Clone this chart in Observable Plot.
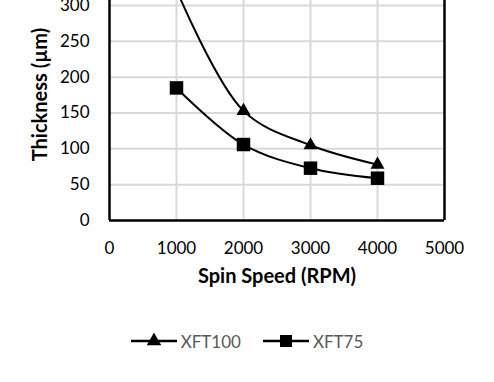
<!DOCTYPE html>
<html>
<head>
<meta charset="utf-8">
<script src="https://cdn.jsdelivr.net/npm/d3@7"></script>
<script src="https://cdn.jsdelivr.net/npm/@observablehq/plot@0.6"></script>
<style>
  html, body { margin: 0; padding: 0; background: #fff; }
  #chart { width: 494px; }
  .legend { height: 82px; display: flex; justify-content: center; align-items: center; gap: 22px; font-family: Lato, "Open Sans", sans-serif; font-size: 17px; color: #595959; padding-left: 0px; padding-bottom: 2px; }
  .legend .item { display: flex; align-items: center; gap: 4px; }
</style>
</head>
<body>
<div id="chart"></div>
<script>
const speeds = [1000, 2000, 3000, 4000];
const xft100 = [322, 153, 105, 78];
const xft75 = [185, 106, 73, 59];
const seriesNames = ["XFT100", "XFT75"];
const xTicks = [0, 1000, 2000, 3000, 4000, 5000];
const yTicks = [0, 50, 100, 150, 200, 250, 300];

const data = [
  ...speeds.map((s, i) => ({speed: s, value: xft100[i], series: seriesNames[0]})),
  ...speeds.map((s, i) => ({speed: s, value: xft75[i], series: seriesNames[1]}))
];
const d100 = data.filter(d => d.series === "XFT100");
const d75 = data.filter(d => d.series === "XFT75");

const font = "Lato, 'Open Sans', sans-serif";

const chart = Plot.plot({
  width: 494,
  height: 300,
  marginLeft: 109,
  marginRight: 50,
  marginTop: 0,
  marginBottom: 80,
  style: {fontFamily: font, fontSize: "17px", color: "#000", background: "#fff"},
  x: {domain: [0, 5000], ticks: xTicks},
  y: {domain: [0, 307], ticks: yTicks},
  marks: [
    Plot.gridX(xTicks.filter(t => t > 0 && t < 5000), {stroke: "#d9d9d9", strokeWidth: 2, strokeOpacity: 1}),
    Plot.gridY(yTicks.filter(t => t > 0), {stroke: "#d9d9d9", strokeWidth: 2, strokeOpacity: 1}),
    Plot.axisX({ticks: xTicks, tickSize: 0, tickPadding: 21, label: null, fontSize: 17, tickFormat: d => String(d)}),
    Plot.axisY({ticks: yTicks, tickSize: 0, tickPadding: 20, label: null, fontSize: 17, tickFormat: d => String(d)}),
    Plot.ruleY([0], {stroke: "#000", strokeWidth: 2.5}),
    Plot.ruleX([0, 5000], {stroke: "#000", strokeWidth: 2.5}),
    Plot.line(d100, {x: "speed", y: "value", curve: "catmull-rom", stroke: "#000", strokeWidth: 2, clip: true}),
    Plot.line(d75, {x: "speed", y: "value", curve: "catmull-rom", stroke: "#000", strokeWidth: 2, clip: true}),
    Plot.dot(d100, {x: "speed", y: "value", symbol: "triangle", r: 5.2, fill: "#000", stroke: "none", clip: true}),
    Plot.dot(d75, {x: "speed", y: "value", symbol: "square", r: 7.6, fill: "#000", stroke: "none", clip: true}),
    Plot.text(["Spin Speed (RPM)"], {frameAnchor: "bottom", textAnchor: "middle", dy: 62, fontWeight: "bold", fontSize: 20, fill: "#000"}),
    Plot.text(["Thickness (µm)"], {frameAnchor: "left", textAnchor: "middle", dx: -69, dy: -16, rotate: -90, fontWeight: "bold", fontSize: 20, fill: "#000"})
  ]
});
document.getElementById("chart").appendChild(chart);

// Legend
const legend = document.createElement("div");
legend.className = "legend";
const symbols = {XFT100: d3.symbolTriangle, XFT75: d3.symbolSquare};
const radii = {XFT100: 5.4, XFT75: 6.8};
seriesNames.forEach(name => {
  const item = document.createElement("div");
  item.className = "item";
  const svg = d3.create("svg").attr("width", 46).attr("height", 16);
  svg.append("line").attr("x1", 0).attr("x2", 46).attr("y1", 8).attr("y2", 8).attr("stroke", "#000").attr("stroke-width", 2.5);
  svg.append("path").attr("transform", "translate(23,8)").attr("d", d3.symbol(symbols[name], Math.PI * radii[name] * radii[name])()).attr("fill", "#000");
  item.appendChild(svg.node());
  const label = document.createElement("span");
  label.textContent = name;
  item.appendChild(label);
  legend.appendChild(item);
});
document.getElementById("chart").appendChild(legend);
</script>
</body>
</html>
